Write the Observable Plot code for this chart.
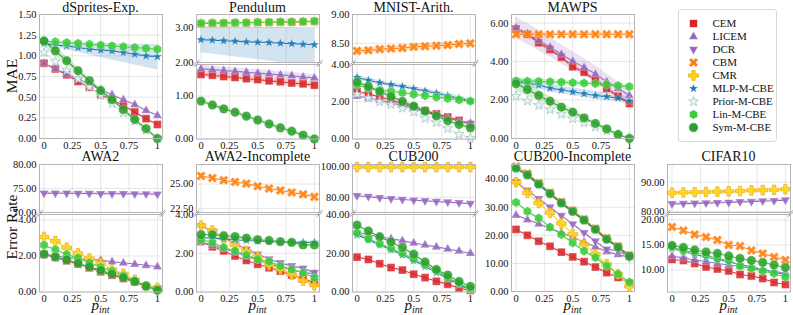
<!DOCTYPE html>
<html><head><meta charset="utf-8">
<script src="https://cdn.jsdelivr.net/npm/d3@7"></script>
<script src="https://cdn.jsdelivr.net/npm/@observablehq/plot@0.6"></script>
<style>
body{margin:0;background:#fff;}
#chart{position:relative;width:793px;height:315px;overflow:hidden;font-family:"Liberation Serif",serif;background:#fff;}
#legend{position:absolute;left:678px;top:9px;width:99px;height:133px;box-sizing:border-box;border:1px solid #d9d9d9;border-radius:3px;background:#fff;}
</style></head><body><div id="chart"><div id="legend"></div></div>
<script>
// ---------------- data ----------------
const xs = [0,0.1,0.2,0.3,0.4,0.5,0.6,0.7,0.8,0.9,1];
const xTicks = [0,0.25,0.5,0.75,1];
const methods = ["CEM","LICEM","DCR","CBM","CMR","MLP-M-CBE","Prior-M-CBE","Lin-M-CBE","Sym-M-CBE"];

// dSprites-Exp.
const dsprCEM   = [0.91,0.84,0.77,0.69,0.62,0.53,0.47,0.40,0.32,0.24,0.17];
const dsprLICEM = [0.91,0.84,0.78,0.72,0.66,0.59,0.53,0.47,0.41,0.34,0.28];
const dsprMLP   = [1.15,1.13,1.12,1.10,1.08,1.07,1.06,1.04,1.02,1.00,0.99];
const dsprMLPLo = [1.13,1.10,1.07,1.04,1.01,0.98,0.95,0.92,0.89,0.86,0.83];
const dsprMLPHi = [1.17,1.16,1.16,1.16,1.15,1.15,1.15,1.14,1.14,1.14,1.14];
const dsprPrior = [1.04,0.93,0.82,0.72,0.62,0.52,0.42,0.31,0.21,0.10,0.00];
const dsprLin   = [1.18,1.17,1.16,1.15,1.14,1.13,1.12,1.11,1.10,1.09,1.08];
const dsprSym   = [1.18,1.06,0.94,0.82,0.70,0.58,0.47,0.35,0.23,0.12,0.00];
const dsprSymSd = [0.07,0.06,0.05,0.04,0.03,0.03,0.02,0.02,0.02,0.01,0.01];

// Pendulum
const pendCBM   = [3.11,3.12,3.12,3.13,3.13,3.14,3.14,3.15,3.15,3.16,3.17];
const pendLin   = [3.12,3.13,3.13,3.14,3.14,3.15,3.15,3.16,3.16,3.17,3.18];
const pendMLP   = [2.65,2.64,2.62,2.61,2.59,2.58,2.57,2.55,2.54,2.52,2.51];
const pendMLPLo = [2.28,2.24,2.20,2.16,2.12,2.08,2.04,2.00,1.96,1.92,1.88];
const pendMLPHi = [3.02,3.02,3.01,3.01,3.00,3.00,3.00,2.99,2.99,2.98,2.98];
const pendLICEM = [1.63,1.61,1.59,1.57,1.55,1.53,1.51,1.49,1.47,1.44,1.42];
const pendCEM   = [1.50,1.48,1.45,1.43,1.40,1.38,1.35,1.33,1.30,1.28,1.25];
const pendSym   = [0.88,0.79,0.70,0.62,0.53,0.44,0.35,0.26,0.18,0.09,0.00];

// MNIST-Arith.
const mnistCBM   = [8.37,8.38,8.40,8.41,8.42,8.44,8.45,8.46,8.47,8.49,8.50];
const mnistMLP   = [3.30,3.15,3.02,2.92,2.82,2.70,2.58,2.46,2.32,2.18,2.05];
const mnistLin   = [2.90,2.72,2.62,2.55,2.48,2.40,2.32,2.25,2.18,2.10,2.03];
const mnistSym   = [3.05,2.82,2.55,2.28,2.02,1.76,1.50,1.24,0.98,0.78,0.60];
const mnistCEM   = [2.55,2.42,2.25,2.08,1.90,1.72,1.52,1.35,1.18,1.00,0.78];
const mnistLICEM = [2.30,2.20,2.08,1.95,1.80,1.62,1.45,1.28,1.12,0.97,0.85];
const mnistPrior = [2.40,2.20,2.00,1.85,1.65,1.45,1.10,0.88,0.56,0.25,0.05];

// MAWPS
const mawpsLICEM   = [5.76,5.45,5.10,4.75,4.38,4.02,3.70,3.35,2.95,2.60,2.24];
const mawpsLICEMSd = [0.55,0.55,0.55,0.50,0.50,0.50,0.45,0.45,0.40,0.35,0.30];
const mawpsCEM     = [5.70,5.42,4.98,4.63,4.23,3.73,3.45,3.04,2.60,2.20,1.82];
const mawpsCBM     = [5.42,5.42,5.42,5.42,5.42,5.42,5.42,5.42,5.42,5.42,5.42];
const mawpsMLP     = [2.95,2.88,2.78,2.62,2.52,2.43,2.33,2.24,2.18,2.11,1.95];
const mawpsPrior   = [2.20,1.95,1.72,1.50,1.25,1.03,0.81,0.59,0.40,0.20,0.05];
const mawpsLin     = [3.00,2.98,2.97,2.95,2.93,2.90,2.88,2.85,2.80,2.75,2.70];
const mawpsSym     = [2.85,2.55,2.24,1.94,1.63,1.37,1.07,0.78,0.50,0.21,0.00];
const mawpsSymSd   = [0.40,0.35,0.30,0.25,0.20,0.15,0.10,0.10,0.08,0.05,0.03];

// AWA2
const awaDCR   = [74.0,74.0,74.0,73.95,73.95,73.9,73.9,73.9,73.85,73.85,73.8];
const awaCEM   = [2.08,1.92,1.73,1.55,1.34,1.12,0.93,0.75,0.56,0.32,0.16];
const awaLICEM = [2.10,2.00,1.92,1.86,1.80,1.77,1.68,1.62,1.55,1.48,1.40];
const awaCMR   = [3.05,2.82,2.46,2.14,1.86,1.62,1.25,1.01,0.68,0.32,0.22];
const awaLin   = [2.60,2.35,2.09,1.89,1.62,1.38,1.16,0.91,0.63,0.32,0.10];
const awaSym   = [2.10,1.95,1.78,1.60,1.40,1.20,1.00,0.80,0.58,0.33,0.10];

// AWA2-Incomplete
const awaiCBM   = [25.83,25.62,25.40,25.22,25.05,24.78,24.55,24.35,24.15,23.95,23.70];
const awaiCEM   = [2.60,2.33,2.12,1.86,1.63,1.43,1.25,1.08,0.87,0.68,0.47];
const awaiLICEM = [2.60,2.40,2.25,2.05,1.85,1.65,1.45,1.30,1.15,1.00,0.95];
const awaiDCR   = [3.40,3.15,2.80,2.50,2.20,1.95,1.70,1.50,1.35,1.22,1.00];
const awaiCMR   = [3.43,3.17,2.77,2.43,2.12,1.81,1.39,1.17,0.90,0.59,0.35];
const awaiMLP   = [2.80,2.78,2.74,2.70,2.66,2.64,2.60,2.58,2.56,2.56,2.56];
const awaiLin   = [2.70,2.56,2.30,2.12,1.91,1.69,1.57,1.34,1.17,0.99,0.73];
const awaiSym   = [2.96,2.96,2.90,2.86,2.78,2.70,2.66,2.60,2.56,2.43,2.43];

// CUB200
const cubCMR   = [99.8,99.8,99.8,99.8,99.8,99.8,99.8,99.8,99.8,99.8,99.8];
const cubDCR   = [81.0,80.4,79.6,79.0,78.5,78.0,77.6,77.2,76.8,76.3,75.8];
const cubCEM   = [18.0,16.8,14.6,12.6,11.3,9.2,7.4,5.5,4.0,2.0,0.8];
const cubLICEM = [31.0,29.5,28.5,27.5,26.5,25.3,24.3,23.3,22.2,21.2,20.0];
const cubMLP   = [29.5,26.8,24.3,21.8,19.2,16.2,13.2,10.0,6.8,3.8,1.0];
const cubLin   = [30.5,27.5,25.0,22.5,20.0,17.0,14.0,11.0,7.5,4.5,1.5];
const cubSym   = [34.5,31.5,28.5,25.8,23.0,19.5,15.5,11.6,8.7,5.4,2.9];

// CUB200-Incomplete
const cubiCEM   = [22.1,20.0,17.9,16.1,14.0,12.3,10.6,8.7,6.7,5.0,3.0];
const cubiLICEM = [27.2,25.6,24.1,22.5,20.9,19.3,17.6,15.9,14.2,13.2,12.1];
const cubiDCR   = [39.0,36.0,33.0,30.0,27.0,24.0,20.9,17.9,15.0,14.6,12.1];
const cubiCBM   = [44.5,42.0,38.6,35.2,31.9,28.8,25.7,22.4,19.0,16.1,12.9];
const cubiCMR   = [38.9,35.1,31.5,28.0,24.2,20.4,16.8,13.3,9.7,6.2,1.8];
const cubiMLP   = [43.8,41.3,38.0,34.6,31.3,28.3,25.2,21.9,18.4,15.6,12.4];
const cubiLin   = [31.7,28.5,26.1,22.9,20.3,17.3,14.4,12.1,9.1,6.2,3.3];
const cubiSym   = [43.9,41.5,38.2,34.8,31.5,28.5,25.4,22.1,18.6,15.8,12.6];

// CIFAR10
const cifCMR   = [86.4,86.5,86.6,86.7,86.8,86.9,87.0,87.2,87.3,87.4,87.6];
const cifDCR   = [82.6,82.7,82.8,82.9,83.0,83.1,83.3,83.4,83.6,83.7,83.9];
const cifCBM   = [18.6,17.9,17.1,16.6,16.0,15.0,14.8,13.9,13.3,12.6,12.0];
const cifSym   = [14.9,14.5,14.0,13.6,13.3,12.8,12.3,11.9,11.5,11.0,10.5];
const cifLin   = [14.6,13.9,13.5,13.0,12.3,11.9,10.8,10.3,9.8,9.3,8.6];
const cifMLP   = [14.3,13.7,13.1,12.6,12.1,11.6,11.1,10.6,10.1,9.6,9.1];
const cifLICEM = [12.8,12.4,12.0,11.7,11.3,11.0,10.7,10.4,10.0,9.7,9.4];
const cifCEM   = [12.1,11.9,11.3,10.6,10.2,9.8,9.1,8.8,8.3,7.5,7.1];

// ---------------- symbols & styles ----------------
function poly(c, pts){ c.moveTo(pts[0][0],pts[0][1]); for (let i=1;i<pts.length;i++) c.lineTo(pts[i][0],pts[i][1]); c.closePath(); }
const SQ = {draw(c,s){ const w=Math.sqrt(s)*0.47; c.rect(-w,-w,2*w,2*w); }};
const TU = {draw(c,s){ const r=Math.sqrt(s)*0.62; poly(c,[[0,-r],[r*0.9,r*0.55],[-r*0.9,r*0.55]]); }};
const TD = {draw(c,s){ const r=Math.sqrt(s)*0.62; poly(c,[[0,r],[r*0.9,-r*0.55],[-r*0.9,-r*0.55]]); }};
function crossPts(r,w){ return [[-w,-r],[w,-r],[w,-w],[r,-w],[r,w],[w,w],[w,r],[-w,r],[-w,w],[-r,w],[-r,-w],[-w,-w]]; }
const PL = {draw(c,s){ const L=Math.sqrt(s); poly(c, crossPts(L*0.58, L*0.2)); }};
const XX = {draw(c,s){ const L=Math.sqrt(s); const k=Math.SQRT1_2; poly(c, crossPts(L*0.6, L*0.2).map(([x,y])=>[(x-y)*k,(x+y)*k])); }};
const ST = {draw(c,s){ const R=Math.sqrt(s)*0.6, r=R*0.42; const p=[]; for(let i=0;i<10;i++){ const a=-Math.PI/2+i*Math.PI/5, q=i%2?r:R; p.push([q*Math.cos(a), q*Math.sin(a)]);} poly(c,p); }};
const HX = {draw(c,s){ const R=Math.sqrt(s)*0.56; const p=[]; for(let i=0;i<6;i++){ const a=-Math.PI/2+i*Math.PI/3; p.push([R*Math.cos(a), R*Math.sin(a)]);} poly(c,p); }};

const STY = {
  "CEM":         {c:"#d62728", s:SQ},
  "LICEM":       {c:"#9467bd", s:TU},
  "DCR":         {c:"#9467bd", s:TD},
  "CBM":         {c:"#ff7f0e", s:XX},
  "CMR":         {c:"#ffd21a", s:PL, edge:"#e8a400"},
  "MLP-M-CBE":   {c:"#1f77b4", s:ST},
  "Prior-M-CBE": {c:"#e6f7f7", s:ST, edge:"#8fb3b3", line:"#cfe6e6"},
  "Lin-M-CBE":   {c:"#3acd3a", s:HX},
  "Sym-M-CBE":   {c:"#2ca02c", s:"circle"}
};

function S(m, y, band){ return Object.assign({m, y}, band || {}); }

const COLX = [39, 196, 352, 511, 667];
const FW = 123;
const ROWS = [{top:14, bottom:138, split:48}, {top:164, bottom:291, split:48}];
const GAP = 1.5;
const XDOM = [-0.04, 1.045];

const PANELS = [
  {title:"dSprites-Exp.", col:0, row:0, parts:[
    {domain:[0,1.5], ticks:[0,0.25,0.5,0.75,1,1.25,1.5], series:[
      S("CEM",dsprCEM), S("LICEM",dsprLICEM), S("MLP-M-CBE",dsprMLP,{lo:dsprMLPLo,hi:dsprMLPHi}),
      S("Prior-M-CBE",dsprPrior), S("Lin-M-CBE",dsprLin), S("Sym-M-CBE",dsprSym,{sd:dsprSymSd})]}]},
  {title:"Pendulum", col:1, row:0, parts:[
    {domain:[2.0,3.37], ticks:[2,3], series:[
      S("CBM",pendCBM), S("MLP-M-CBE",pendMLP,{lo:pendMLPLo,hi:pendMLPHi}), S("Lin-M-CBE",pendLin)]},
    {domain:[0,1.73], ticks:[0,1], series:[
      S("CEM",pendCEM,{sd:0.07}), S("LICEM",pendLICEM,{sd:0.08}), S("Sym-M-CBE",pendSym,{sd:0.04})]}]},
  {title:"MNIST-Arith.", col:2, row:0, parts:[
    {domain:[8.17,9.0], ticks:[8.5,9], series:[S("CBM",mnistCBM,{sd:0.05})]},
    {domain:[0,4], ticks:[0,2,4], series:[
      S("CEM",mnistCEM,{sd:0.06}), S("LICEM",mnistLICEM,{sd:0.05}), S("MLP-M-CBE",mnistMLP,{sd:0.12}),
      S("Prior-M-CBE",mnistPrior), S("Lin-M-CBE",mnistLin,{sd:0.06}), S("Sym-M-CBE",mnistSym,{sd:0.1})]}]},
  {title:"MAWPS", col:3, row:0, parts:[
    {domain:[0,6.45], ticks:[0,2,4,6], series:[
      S("CEM",mawpsCEM,{sd:0.1}), S("LICEM",mawpsLICEM,{sd:mawpsLICEMSd}), S("CBM",mawpsCBM,{sd:0.08}),
      S("MLP-M-CBE",mawpsMLP,{sd:0.2}), S("Prior-M-CBE",mawpsPrior), S("Lin-M-CBE",mawpsLin,{sd:0.1}),
      S("Sym-M-CBE",mawpsSym,{sd:mawpsSymSd})]}]},
  {title:"AWA2", col:0, row:1, parts:[
    {domain:[70,80], ticks:[70,75,80], series:[S("DCR",awaDCR,{sd:0.25})]},
    {domain:[0,4.3], ticks:[0,2,4], series:[
      S("CEM",awaCEM), S("LICEM",awaLICEM), S("CMR",awaCMR), S("Lin-M-CBE",awaLin), S("Sym-M-CBE",awaSym)]}]},
  {title:"AWA2-Incomplete", col:1, row:1, parts:[
    {domain:[22.1,27.0], ticks:[22.5,25], series:[S("CBM",awaiCBM)]},
    {domain:[0,4], ticks:[0,2,4], series:[
      S("CEM",awaiCEM), S("LICEM",awaiLICEM), S("DCR",awaiDCR), S("CMR",awaiCMR), S("MLP-M-CBE",awaiMLP),
      S("Lin-M-CBE",awaiLin), S("Sym-M-CBE",awaiSym)]}]},
  {title:"CUB200", col:2, row:1, parts:[
    {domain:[70,101.5], ticks:[80,100], series:[S("DCR",cubDCR), S("CMR",cubCMR)]},
    {domain:[0,40], ticks:[0,20,40], series:[
      S("CEM",cubCEM), S("LICEM",cubLICEM), S("MLP-M-CBE",cubMLP), S("Lin-M-CBE",cubLin), S("Sym-M-CBE",cubSym)]}]},
  {title:"CUB200-Incomplete", col:3, row:1, parts:[
    {domain:[0,45.2], ticks:[0,10,20,30,40], series:[
      S("CEM",cubiCEM), S("LICEM",cubiLICEM), S("DCR",cubiDCR), S("CBM",cubiCBM), S("CMR",cubiCMR),
      S("MLP-M-CBE",cubiMLP), S("Lin-M-CBE",cubiLin), S("Sym-M-CBE",cubiSym)]}]},
  {title:"CIFAR10", col:4, row:1, parts:[
    {domain:[79.7,96], ticks:[80,90], series:[S("DCR",cifDCR,{sd:0.4}), S("CMR",cifCMR)]},
    {domain:[5.6,21.1], ticks:[10,15,20], series:[
      S("CEM",cifCEM), S("LICEM",cifLICEM), S("CBM",cifCBM), S("MLP-M-CBE",cifMLP),
      S("Lin-M-CBE",cifLin), S("Sym-M-CBE",cifSym)]}]}
];

// ---------------- drawing ----------------
const chart = document.getElementById("chart");
const FONT = "Liberation Serif, serif";

function drawPart(left, top, h, part, showX, breakAt){
  const ML=46, MR=8, MT=4, MB=showX?18:4;
  const [d0,d1] = part.domain;
  const cl = v => Math.max(d0, Math.min(d1, v));
  const marks = [];
  for (const s of part.series){
    if (!(s.lo || s.sd !== undefined)) continue;
    const sty = STY[s.m];
    const sdv = i => Array.isArray(s.sd) ? s.sd[i] : s.sd;
    const data = xs.map((x,i)=>({x, lo: cl(s.lo ? s.lo[i] : s.y[i]-sdv(i)), hi: cl(s.hi ? s.hi[i] : s.y[i]+sdv(i))}));
    marks.push(Plot.areaY(data, {x:"x", y1:"lo", y2:"hi", fill:sty.c, fillOpacity:0.2}));
  }
  for (const s of part.series){
    const sty = STY[s.m];
    const data = xs.map((x,i)=>({x, y:s.y[i]}));
    marks.push(Plot.line(data, {x:"x", y:"y", stroke: sty.line || sty.c, strokeWidth:1.1}));
    marks.push(Plot.dot(data, {x:"x", y:"y", r:4.7, symbol:sty.s, fill:sty.c, fillOpacity:0.88,
      stroke: sty.edge || "#ffffff", strokeWidth:0.6, strokeOpacity: sty.edge ? 1 : 0.5}));
  }
  marks.push(Plot.frame({stroke:"#b5b5b5", strokeWidth:1}));
  if (breakAt !== undefined){
    const ax = 3*(XDOM[1]-XDOM[0])/FW, by = 2.5*(d1-d0)/h;
    const yb = breakAt === "bottom" ? d0 : d1;
    const L = [XDOM[0], XDOM[1]].map(xc => ({x1:xc-ax, x2:xc+ax, y1:yb-by, y2:yb+by}));
    marks.push(Plot.link(L, {x1:"x1", x2:"x2", y1:"y1", y2:"y2", stroke:"#999", strokeWidth:0.9}));
  }
  const svg = Plot.plot({
    width: FW+ML+MR, height: h+MT+MB,
    marginLeft: ML, marginRight: MR, marginTop: MT, marginBottom: MB,
    x: {domain: XDOM, ticks: xTicks, tickFormat: d => String(d), axis: showX ? "bottom" : null,
        tickSize: 0, tickPadding: 3, grid: true, label: null},
    y: {domain: part.domain, ticks: part.ticks, tickFormat: d3.format(".2f"), tickSize: 0, tickPadding: 3,
        grid: true, label: null},
    style: {background: "transparent", fontFamily: FONT, fontSize: "10.5px", overflow: "visible", color: "#111"},
    marks
  });
  svg.style.position = "absolute";
  svg.style.left = (left-ML)+"px";
  svg.style.top = (top-MT)+"px";
  chart.appendChild(svg);
}

for (const p of PANELS){
  const R = ROWS[p.row], left = COLX[p.col];
  if (p.parts.length === 1){
    drawPart(left, R.top, R.bottom-R.top, p.parts[0], true);
  } else {
    drawPart(left, R.top, R.split, p.parts[0], false, "bottom");
    const t2 = R.top + R.split + GAP;
    drawPart(left, t2, R.bottom - t2, p.parts[1], true, "top");
  }
}

// overlay text: titles & axis labels
const ov = d3.create("svg").attr("width",793).attr("height",315)
  .style("position","absolute").style("left","0px").style("top","0px").style("overflow","visible")
  .attr("font-family", FONT);
const titleBase = [11.5, 161];
for (const p of PANELS){
  ov.append("text").attr("x", COLX[p.col]+FW/2).attr("y", titleBase[p.row])
    .attr("text-anchor","middle").attr("font-size",14).attr("fill","#111").text(p.title);
}
ov.append("text").attr("transform","translate(17,76) rotate(-90)").attr("text-anchor","middle")
  .attr("font-size",15.5).attr("fill","#111").text("MAE");
ov.append("text").attr("transform","translate(17,227) rotate(-90)").attr("text-anchor","middle")
  .attr("font-size",15.5).attr("fill","#111").text("Error Rate");
for (let c=0;c<5;c++){
  const t = ov.append("text").attr("x", COLX[c]+FW/2).attr("y", 310).attr("text-anchor","middle")
    .attr("font-size",15).attr("font-style","italic").attr("fill","#111");
  t.append("tspan").text("p");
  t.append("tspan").attr("font-size",10).attr("dy",3).text("int");
}
chart.appendChild(ov.node());

// legend
const legSvg = Plot.plot({
  width: 97, height: 131, margin: 0,
  x: {domain:[0,97], range:[0,97], axis:null},
  y: {type:"point", domain: methods, range:[6, 6+8*14.67], axis:null},
  style: {background:"transparent", fontFamily: FONT, fontSize:"11px", overflow:"visible", color:"#111"},
  marks: [
    Plot.dot(methods, {x: () => 14, y: d => d, r:4.8, symbol: d => STY[d].s,
      fill: d => STY[d].c, stroke: d => STY[d].edge || "#ffffff", strokeWidth:0.6}),
    Plot.text(methods, {x: () => 33, y: d => d, text: d => d, textAnchor:"start", fill:"#111"})
  ]
});
document.getElementById("legend").appendChild(legSvg);
</script></body></html>
